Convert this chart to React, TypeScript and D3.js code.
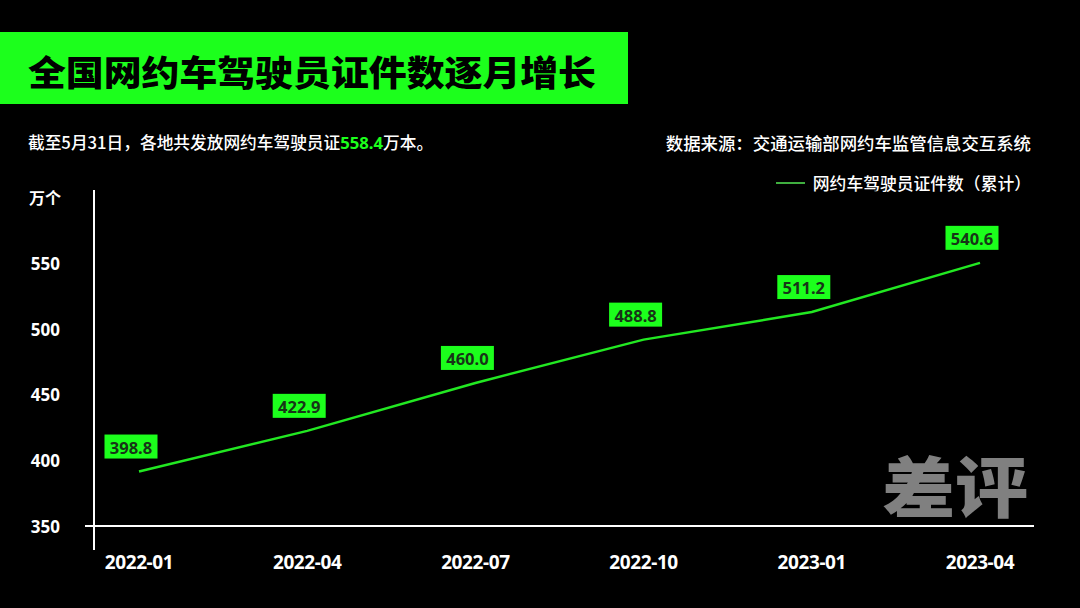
import React from "react";
import * as d3 from "d3";

const months = ["2022-01", "2022-04", "2022-07", "2022-10", "2023-01", "2023-04"];
const monthIndex = [0, 3, 6, 9, 12, 15];
const lineValues = [391.5, 422.5, 459, 492, 513, 550.5];
const labelValues = ["398.8", "422.9", "460.0", "488.8", "511.2", "540.6"];
const yTicks = [350, 400, 450, 500, 550];

const titleText = "全国网约车驾驶员证件数逐月增长";
const subtitlePre = "截至5月31日，各地共发放网约车驾驶员证";
const subtitleNum = "558.4";
const subtitlePost = "万本。";
const sourceText = "数据来源：交通运输部网约车监管信息交互系统";
const legendText = "网约车驾驶员证件数（累计）";
const yUnit = "万个";
const watermark = "差评";

const W = 1080;
const H = 608;
const GREEN = "#1cff1c";
const LINE = "#22e822";
const CJK = "'Noto Sans CJK SC', 'Noto Sans', sans-serif";
const NUM = "'Noto Sans', 'Noto Sans CJK SC', sans-serif";

export default function App() {
  const x = d3.scaleLinear().domain([0, 15]).range([139, 980]);
  const y = d3.scaleLinear().domain([350, 550]).range([526, 263.5]);
  const line = d3
    .line<number>()
    .x((_, i) => x(monthIndex[i]))
    .y((d) => y(d))
    .curve(d3.curveLinear);

  return (
    <div style={{ position: "fixed", left: 0, top: 0, width: W, height: H }}>
      <svg width={W} height={H} style={{ display: "block" }}>
        <rect x={0} y={0} width={W} height={H} fill="#000" />
        {/* Title */}
        <rect x={0} y={32} width={628} height={72} fill={GREEN} />
        <text
          x={28}
          y={70}
          dominantBaseline="central"
          fontFamily={CJK}
          fontWeight={900}
          fontSize={35}
          fill="#000"
          textLength={568}
          lengthAdjust="spacingAndGlyphs"
        >
          {titleText}
        </text>
        {/* Subtitle */}
        <text x={28} y={142} dominantBaseline="central" fontFamily={CJK} fontWeight={500} fontSize={16.7} fill="#fff">
          {subtitlePre}
          <tspan fill={GREEN} fontWeight={700} fontFamily={NUM}>{subtitleNum}</tspan>
          {subtitlePost}
        </text>
        <text x={1031} y={142} textAnchor="end" dominantBaseline="central" fontFamily={CJK} fontWeight={500} fontSize={17.4} fill="#fff">
          {sourceText}
        </text>
        {/* Legend */}
        <line x1={776} x2={805} y1={183} y2={183} stroke="#3fae3f" strokeWidth={2} />
        <text x={1031} y={183} textAnchor="end" dominantBaseline="central" fontFamily={CJK} fontWeight={500} fontSize={16.8} fill="#fff">
          {legendText}
        </text>
        {/* Y axis */}
        <text x={61} y={197} textAnchor="end" dominantBaseline="central" fontFamily={CJK} fontWeight={700} fontSize={16} fill="#fff">
          {yUnit}
        </text>
        {yTicks.map((t) => (
          <text key={t} x={60} y={y(t)} textAnchor="end" dominantBaseline="central" fontFamily={NUM} fontWeight={700} fontSize={17} fill="#fff">
            {t}
          </text>
        ))}
        <line x1={94} x2={94} y1={190} y2={550} stroke="#fff" strokeWidth={2} />
        <line x1={85} x2={1034} y1={y(350)} y2={y(350)} stroke="#fff" strokeWidth={2} />
        {/* X tick labels */}
        {months.map((m, i) => (
          <text
            key={m}
            x={x(monthIndex[i])}
            y={562}
            textAnchor="middle"
            dominantBaseline="central"
            fontFamily={NUM}
            fontWeight={700}
            fontSize={19}
            letterSpacing={-0.4}
            fill="#fff"
          >
            {m}
          </text>
        ))}
        {/* Watermark */}
        <text
          x={882}
          y={483}
          dominantBaseline="central"
          fontFamily={CJK}
          fontWeight={900}
          fontSize={66}
          fill="#808080"
          textLength={146}
          lengthAdjust="spacingAndGlyphs"
        >
          {watermark}
        </text>
        {/* Line */}
        <path d={line(lineValues) || ""} fill="none" stroke={LINE} strokeWidth={2.5} />
        {/* Data labels */}
        {labelValues.map((lv, i) => {
          const cx = x(monthIndex[i]) - 8;
          const cy = y(lineValues[i]) - 25;
          return (
            <g key={lv}>
              <rect x={cx - 26.5} y={cy - 12} width={53} height={24} fill={GREEN} />
              <text x={cx} y={cy + 0.5} textAnchor="middle" dominantBaseline="central" fontFamily={NUM} fontWeight={700} fontSize={16.5} fill="#173517">
                {lv}
              </text>
            </g>
          );
        })}
      </svg>
    </div>
  );
}
